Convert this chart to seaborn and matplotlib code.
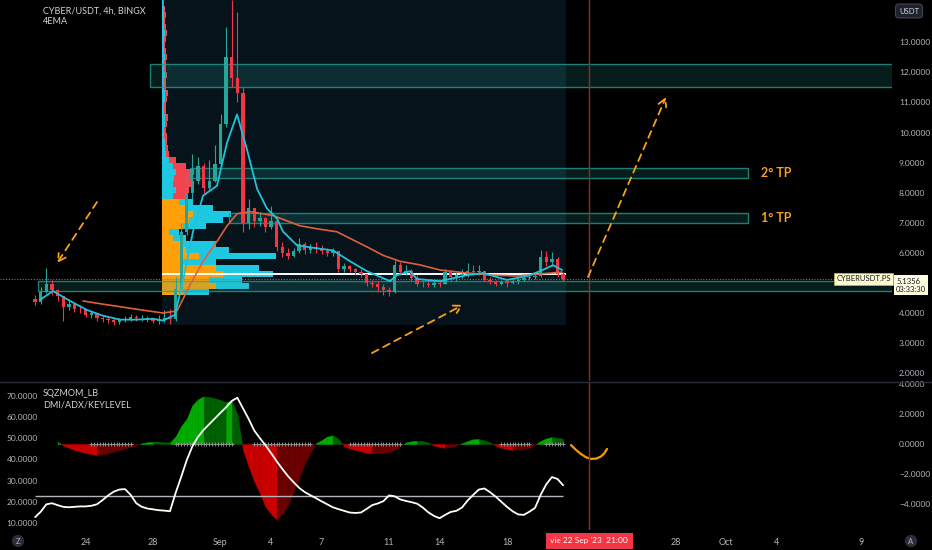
import numpy as np
import pandas as pd
import matplotlib
matplotlib.use("Agg")
import matplotlib.pyplot as plt
from matplotlib.patches import Rectangle
from matplotlib.lines import Line2D
from matplotlib.ticker import FuncFormatter
from matplotlib.transforms import blended_transform_factory
import seaborn as sns

# --- datos de velas (8h) ---
candle_start = "2023-08-21 00:00"
first_open = 4.45
closes = [4.35, 4.70, 4.95, 4.75, 4.55, 4.20, 4.30, 4.15, 4.12, 3.95,
          4.00, 3.85, 3.80, 3.78, 3.70, 3.76, 3.80, 3.88, 3.82, 3.85,
          3.80, 3.75, 3.78, 3.85, 3.80, 4.80, 6.70, 8.00, 8.40, 8.90,
          8.15, 8.40, 8.95, 10.30, 12.50, 11.80, 11.30, 7.00, 7.50, 7.05,
          7.15, 6.85, 7.05, 6.20, 6.00, 5.90, 6.05, 6.30, 6.10, 6.20,
          6.15, 6.05, 6.00, 6.05, 5.45, 5.55, 5.45, 5.35, 5.30, 5.00,
          4.95, 4.85, 4.75, 4.70, 5.60, 5.35, 5.40, 5.15, 4.98, 4.95,
          4.92, 5.00, 4.98, 5.35, 5.20, 5.25, 5.30, 5.40, 5.35, 5.40,
          5.10, 5.02, 4.98, 5.03, 5.00, 5.05, 5.10, 5.15, 5.20, 5.22,
          5.85, 5.70, 5.80, 5.30, 5.1356]
highs = [4.60, 4.85, 5.50, 5.10, 4.80, 4.55, 4.45, 4.35, 4.25, 4.15,
         4.08, 4.00, 3.90, 3.88, 3.82, 3.85, 3.90, 3.98, 3.95, 3.95,
         3.90, 3.85, 3.95, 4.10, 4.15, 5.20, 7.00, 8.60, 9.30, 9.20,
         9.00, 9.10, 9.60, 10.60, 13.50, 14.40, 14.00, 11.50, 7.80, 7.45,
         7.35, 7.20, 7.55, 7.20, 6.35, 6.15, 6.15, 6.50, 6.35, 6.30,
         6.35, 6.25, 6.15, 6.15, 6.05, 5.65, 5.60, 5.50, 5.45, 5.30,
         5.10, 5.05, 4.95, 4.85, 5.75, 5.70, 5.60, 5.45, 5.25, 5.10,
         5.05, 5.10, 5.10, 5.45, 5.40, 5.35, 5.45, 5.65, 5.60, 5.60,
         5.40, 5.20, 5.10, 5.10, 5.10, 5.12, 5.18, 5.25, 5.28, 5.30,
         6.08, 6.05, 6.02, 5.85, 5.35]
lows = [4.25, 4.30, 4.65, 4.60, 4.40, 3.75, 4.10, 4.05, 4.00, 3.88,
        3.85, 3.75, 3.70, 3.68, 3.60, 3.62, 3.70, 3.75, 3.74, 3.75,
        3.70, 3.68, 3.65, 3.70, 3.65, 3.75, 4.70, 6.60, 7.80, 8.30,
        8.00, 8.10, 8.35, 8.90, 10.20, 11.50, 11.00, 6.70, 6.80, 6.85,
        6.90, 6.70, 6.80, 6.05, 5.85, 5.80, 5.85, 6.00, 5.95, 6.00,
        6.00, 5.95, 5.90, 5.90, 5.35, 5.35, 5.35, 5.25, 5.20, 4.90,
        4.85, 4.70, 4.60, 4.58, 4.65, 5.25, 5.25, 5.05, 4.90, 4.85,
        4.85, 4.88, 4.88, 4.95, 5.05, 5.05, 5.15, 5.20, 5.25, 5.25,
        5.05, 4.95, 4.90, 4.92, 4.85, 4.95, 4.98, 5.05, 5.10, 5.12,
        5.20, 5.55, 5.55, 5.20, 5.08]

# --- EMAs (dias desde 1 sep) ---
ema_fast_day = [-10.71, -9.94, -8.93, -7.92, -6.97, -5.96, -4.96, -4.01, -3.41, -2.70,
                -2.23, -1.63, -1.04, -0.21, 0.39, 0.98, 1.57, 2.17, 2.76, 3.35,
                3.71, 4.54, 5.73, 6.68, 7.69, 8.69, 10.06, 10.47, 11.25, 11.66,
                13.03, 14.64, 15.58, 17.0, 18.19, 18.96, 19.73, 20.27]
ema_fast = [4.44, 4.73, 4.40, 4.10, 3.91, 3.78, 3.78, 3.81, 3.75, 3.94,
            5.06, 6.71, 7.90, 8.23, 9.67, 10.6, 9.44, 8.13, 7.47, 7.14,
            6.71, 6.25, 6.15, 6.08, 5.72, 5.39, 5.06, 5.26, 5.39, 5.13,
            5.06, 5.26, 5.33, 5.10, 5.23, 5.39, 5.59, 5.43]
ema_slow_day = [-8.16, -7.15, -5.96, -4.78, -3.41, -2.58, -1.81, -1.04, -0.21, 0.39,
                0.98, 1.75, 3.12, 4.72, 5.73, 6.91, 7.69, 8.69, 9.64, 10.65,
                11.84, 13.03, 14.63, 16.17, 17.60, 18.96, 20.27]
ema_slow = [4.40, 4.31, 4.21, 4.11, 4.00, 4.07, 4.93, 5.72, 6.38, 6.90,
            7.30, 7.37, 7.24, 6.90, 6.80, 6.70, 6.48, 6.20, 5.92, 5.72,
            5.60, 5.43, 5.33, 5.26, 5.23, 5.30, 5.36]

# --- perfil de volumen ---
profile_start = "2023-08-28 12:00"
range_end = "2023-09-21 12:00"
range_low = 3.60
profile_low = 4.6
profile_step = 0.2
value_area = (4.6, 7.8)
poc_price = 5.30
profile_a = [21, 54, 47, 61, 54, 21, 37, 24, 21, 11, 7, 21, 27, 31, 24, 17,
             11, 14, 11, 12, 14, 11, 7, 4, 3,
             3, 2, 2, 3, 3, 2, 2, 3, 3, 2, 2, 3, 2, 2, 3, 2, 2, 2, 3, 2, 2, 2, 2, 1]
profile_b = [26, 33, 33, 50, 43, 33, 77, 43, 33, 13, 10, 23, 34, 38, 27, 14,
             13, 13, 18, 19, 18, 13, 7, 3, 3,
             2, 3, 2, 2, 3, 2, 2, 2, 3, 2, 2, 2, 2, 2, 2, 2, 1, 2, 2, 2, 1, 2, 1, 1]

# --- zonas ---
zone_start = ["2023-08-27 20:00", "2023-08-30 04:00", "2023-09-01 12:00", "2023-08-21 04:00"]
zone_end = ["2023-10-20", "2023-10-02 08:00", "2023-10-02 08:00", "2023-10-20"]
zone_low = [11.51, 8.48, 6.98, 4.74]
zone_high = [12.28, 8.81, 7.32, 5.07]
tp_labels = ["2° TP", "1° TP"]
tp_prices = [8.65, 7.15]
tp_time = "2023-10-03 02:00"

# --- flechas (dias, precio) ---
arrow_tail_day = [-7.33, 8.99, 21.81]
arrow_tail_price = [7.69, 2.67, 5.20]
arrow_head_day = [-9.70, 14.39, 26.44]
arrow_head_price = [5.66, 4.27, 11.18]

# --- indicador ---
mom = [np.nan, np.nan, np.nan, np.nan, 0.15,
       -0.1, -0.25, -0.4, -0.5, -0.6, -0.68, -0.73, -0.7, -0.62, -0.5, -0.4, -0.3, -0.2, -0.1,
       0.05, 0.12, 0.15, 0.15, 0.12, 0.1,
       0.5, 1.2, 1.7, 2.6, 3.0, 3.2, 3.15, 3.07, 2.95, 2.8, 2.9, 2.0,
       -0.4, -1.5, -2.5, -3.3, -4.2, -4.7, -5.07, -4.7, -4.1, -3.2, -2.3, -1.3, -0.6,
       0.05, 0.25, 0.5, 0.58, 0.35,
       -0.15, -0.3, -0.4, -0.5, -0.58, -0.62, -0.6, -0.58, -0.55, -0.4, -0.15,
       0.1, 0.18, 0.22, 0.2, 0.1,
       -0.1, -0.2, -0.25, -0.2, -0.1,
       0.05, 0.2, 0.32, 0.33, 0.25, 0.1,
       -0.1, -0.25, -0.35, -0.4, -0.4, -0.35, -0.25, -0.05,
       0.2, 0.38, 0.47, 0.42, 0.35]
adx = [12.9, 15.5, 19.0, 19.5, 18.6, 17.8, 17.6, 17.8, 18.0, 18.0,
       18.3, 19.0, 21.0, 23.2, 25.0, 26.0, 26.2, 23.5, 19.5, 17.8,
       17.0, 16.6, 16.2, 16.0, 15.7, 24.3, 32.0, 40.0, 46.5, 51.0,
       54.3, 57.0, 59.7, 62.4, 65.0, 68.0, 69.5, 64.5, 59.5, 54.0,
       50.4, 47.0, 43.3, 39.4, 35.8, 32.4, 29.5, 26.8, 24.8, 23.3,
       21.9, 20.4, 19.0, 17.6, 16.7, 15.9, 15.1, 14.9, 15.1, 16.8,
       18.6, 19.4, 20.5, 23.2, 22.8, 21.3, 20.6, 20.0, 19.3, 17.5,
       15.2, 13.5, 12.4, 14.0, 15.4, 15.9, 17.5, 20.8, 23.5, 26.0,
       26.5, 24.7, 22.6, 20.2, 17.8, 15.7, 14.2, 14.0, 15.5, 17.3,
       23.5, 28.5, 31.9, 31.0, 28.0]
key_level = 23
squeeze_on = [(10, 17), (25, 35), (39, 49), (56, 65), (83, 88), (91, 94)]
forecast_day = [20.80, 21.10, 21.39, 21.69, 21.99, 22.29, 22.58, 22.78, 22.94]
forecast_val = [-0.07, -0.4, -0.67, -0.89, -1.0, -0.98, -0.84, -0.62, -0.33]
mom_ticks = [-4, -2, 0, 2, 4]
adx_ticks = [10, 20, 30, 40, 50, 60, 70]

cursor_time = "2023-09-22 21:00"
cursor_label = "vie 22 Sep '23  21:00"
last_price = 5.1356
countdown = "03:33:30"
price_ticks = [2, 3, 4, 6, 7, 8, 9, 10, 11, 12, 13]  # 5.0000 queda tapado por la etiqueta
tick_dates = ["2023-08-24", "2023-08-28", "2023-09-01", "2023-09-04", "2023-09-07", "2023-09-11",
              "2023-09-14", "2023-09-18", "2023-09-28", "2023-10-01", "2023-10-04", "2023-10-09"]
tick_labels = ["24", "28", "Sep", "4", "7", "11", "14", "18", "28", "Oct", "4", "9"]

# --- estilo ---
sns.set_theme(style="dark", rc={
    "figure.facecolor": "#000000", "axes.facecolor": "#000000",
    "axes.edgecolor": "#000000", "axes.grid": False,
    "text.color": "#d1d4dc", "xtick.color": "#b2b5be", "ytick.color": "#b2b5be",
})
plt.rcParams["font.family"] = ["Lato", "DejaVu Sans"]

T0 = pd.Timestamp("2023-09-01")


def to_day(ts):
    return (pd.Timestamp(ts) - T0) / pd.Timedelta("1D")


times = pd.date_range(candle_start, periods=len(closes), freq="8h")
cx = np.asarray((times - T0) / pd.Timedelta("1D"), dtype=float)
c = np.array(closes)
o = np.r_[first_open, c[:-1]]

W, H = 932, 550


def rect(x0, y0, x1, y1):
    return [x0 / W, 1 - y1 / H, (x1 - x0) / W, (y1 - y0) / H]


fig = plt.figure(figsize=(9.32, 5.5), dpi=100)
ax = fig.add_axes(rect(0, 0, 892, 381))
axm = fig.add_axes(rect(0, 382, 892, 530), sharex=ax)
axa = axm.twinx()

# --- panel principal ---
p0 = to_day(profile_start)
p1 = to_day(range_end)
ax.add_patch(Rectangle((p0, range_low), p1 - p0, 20, fc="#07131b", ec="none", zorder=0.5))

for zs, ze, zl, zh in zip(zone_start, zone_end, zone_low, zone_high):
    ax.add_patch(Rectangle((to_day(zs), zl), to_day(ze) - to_day(zs), zh - zl,
                           fc=(0.15, 0.65, 0.6, 0.18), ec=(0.15, 0.65, 0.6, 0.75),
                           lw=1, zorder=2.2))

rows = profile_low + profile_step * np.arange(len(profile_a))
pa = np.array(profile_a, float)
pb = np.array(profile_b, float)
scale = (114 / 16.85) / (pa + pb).max()
in_va = (rows >= value_area[0] - 1e-9) & (rows < value_area[1] - 1e-9)
col_a = np.where(in_va, "#ffa00a", "#1ec8e0")
col_b = np.where(in_va, "#1ec8e0", "#f2444f")
ax.barh(rows, pa * scale, left=p0, height=profile_step, align="edge", color=col_a, lw=0, zorder=2)
ax.barh(rows, pb * scale, left=p0 + pa * scale, height=profile_step, align="edge", color=col_b, lw=0, zorder=2)
ax.hlines(poc_price, p0, p1, color="white", lw=1.4, zorder=2.6)
ax.axhline(last_price, color="#787b86", lw=0.8, ls=(0, (1, 1.5)), zorder=2.5)

up = c >= o
ccol = np.where(up, "#26a69a", "#f23645")
ax.vlines(cx, lows, highs, colors=ccol, lw=0.8, zorder=3)
ax.bar(cx, np.maximum(np.abs(c - o), 0.03), bottom=np.minimum(o, c), width=0.2,
       color=ccol, lw=0, zorder=3.1)

sns.lineplot(x=ema_slow_day, y=ema_slow, ax=ax, color="#e0603a", lw=1.2, zorder=4)
sns.lineplot(x=ema_fast_day, y=ema_fast, ax=ax, color="#1fc3d9", lw=1.3, zorder=4.1)

for tx, ty, hx, hy in zip(arrow_tail_day, arrow_tail_price, arrow_head_day, arrow_head_price):
    ax.annotate("", xy=(hx, hy), xytext=(tx, ty), zorder=6,
                arrowprops=dict(arrowstyle="->,head_length=0.45,head_width=0.25",
                                color="#f7a21b", lw=1.3, ls=(0, (4, 3)), shrinkA=0, shrinkB=0))

for lab, pr in zip(tp_labels, tp_prices):
    ax.text(to_day(tp_time), pr, lab, color="#f7a21b", fontsize=9, fontweight="bold",
            ha="left", va="center", zorder=6)

cursor_day = to_day(cursor_time)
ax.axvline(cursor_day, color="#8b2c33", lw=1, zorder=5)
axm.axvline(cursor_day, color="#8b2c33", lw=1, zorder=5)

ax.set_xlim(-13.086, 39.85)
ax.set_ylim(1.74, 14.406)
ax.yaxis.tick_right()
ax.set_yticks(price_ticks)
ax.yaxis.set_major_formatter(FuncFormatter(lambda v, _: f"{v:.4f}"))
ax.tick_params(axis="y", length=0, pad=5, labelsize=6, labelcolor="#b2b5be")
ax.tick_params(axis="x", length=0, labelbottom=False)
ax.set_xlabel("")
ax.set_ylabel("")

bl = blended_transform_factory(ax.transAxes, ax.transData)
ax.text(0.9985, last_price, "CYBERUSDT.PS", transform=bl, ha="right", va="center",
        fontsize=5.5, color="#131722", zorder=7,
        bbox=dict(boxstyle="square,pad=0.3", fc="#fff9d0", ec="#c9b458", lw=0.5))
ax.annotate(f"{last_price:.4f}\n{countdown}", xy=(1, last_price), xycoords=bl,
            xytext=(3, -4.5), textcoords="offset points", ha="left", va="center",
            fontsize=5.5, color="#131722", linespacing=1.15, annotation_clip=False,
            bbox=dict(boxstyle="square,pad=0.3", fc="#fffde0", ec="none"))

# --- panel indicador: area del momentum por tramos ---
m = np.array(mom, float)
prev = np.r_[np.nan, m[:-1]]
mcol = []
for v, p in zip(m, prev):
    if np.isnan(v):
        mcol.append("none")
    elif v >= 0:
        mcol.append("#00ab00" if (np.isnan(p) or v > p) else "#005f00")
    else:
        mcol.append("#c80000" if (np.isnan(p) or v < p) else "#6a0000")

for i in range(1, len(m)):
    if np.isnan(m[i]) or np.isnan(m[i - 1]):
        continue
    x0, x1, y0, y1 = cx[i - 1], cx[i], m[i - 1], m[i]
    if y0 * y1 < 0:
        xz = x0 + (x1 - x0) * y0 / (y0 - y1)
        axm.fill_between([x0, xz], 0, [y0, 0], color=mcol[i - 1], lw=0.3, zorder=2)
        axm.fill_between([xz, x1], 0, [0, y1], color=mcol[i], lw=0.3, zorder=2)
    else:
        axm.fill_between([x0, x1], 0, [y0, y1], color=mcol[i], lw=0.3, zorder=2)

sq_x = []
for s, e in squeeze_on:
    sq_x.extend(np.interp(np.arange(s, e + 0.01, 0.5), np.arange(len(cx)), cx))
axm.scatter(sq_x, np.zeros(len(sq_x)), marker="+", s=9, color="#8f8f8f", lw=0.7, zorder=3)
sns.lineplot(x=forecast_day, y=forecast_val, ax=axm, color="#ff9800", lw=1.6)

sns.lineplot(x=cx, y=adx, ax=axa, color="white", lw=1.3, zorder=4)
axa.hlines(key_level, cx[0], cx[-1], color="#b2b5be", lw=1, zorder=3)
axa.set_ylim(6.82, 76.97)
axa.set_yticks([])
axa.set_ylabel("")
bla = blended_transform_factory(axa.transAxes, axa.transData)
for v in adx_ticks:
    axa.text(0.0075, v, f"{v:.4f}", transform=bla, ha="left", va="center",
             fontsize=6, color="#b2b5be")

axm.yaxis.tick_right()
axm.set_ylim(-5.77, 4.16)
axm.set_yticks(mom_ticks)
axm.yaxis.set_major_formatter(FuncFormatter(lambda v, _: f"{v:.4f}".replace("-", "\u2212")))
axm.tick_params(axis="y", length=0, pad=5, labelsize=6, labelcolor="#b2b5be")
axm.set_xticks([to_day(d) for d in tick_dates])
axm.set_xticklabels(tick_labels)
axm.tick_params(axis="x", length=0, pad=6, labelsize=6.5, labelcolor="#b2b5be")
axm.set_xlim(-13.086, 39.85)
axm.set_xlabel("")
axm.set_ylabel("")

axm.annotate(cursor_label, xy=(cursor_day, 0), xycoords=("data", "axes fraction"),
             xytext=(0, -7.9), textcoords="offset points", ha="center", va="center",
             fontsize=6, color="white", annotation_clip=False,
             bbox=dict(boxstyle="square,pad=0.55", fc="#f23645", ec="none"))

for a in (ax, axm, axa):
    for s in a.spines.values():
        s.set_visible(False)

# --- textos de la figura ---
def fx(px):
    return px / W


def fy(py):
    return 1 - py / H


fig.add_artist(Line2D([0, 1], [fy(381.5), fy(381.5)], transform=fig.transFigure,
                      color="#2a2e39", lw=1))
fig.text(fx(43), fy(11), "CYBER/USDT, 4h, BINGX", fontsize=6.5, color="#d1d4dc", va="center")
fig.text(fx(43), fy(22), "4EMA", fontsize=6.5, color="#d1d4dc", va="center")
fig.text(fx(43), fy(393), "SQZMOM_LB", fontsize=6.5, color="#d1d4dc", va="center")
fig.text(fx(43), fy(405), "DMI/ADX/KEYLEVEL", fontsize=6.5, color="#d1d4dc", va="center")
fig.text(fx(909), fy(11), "USDT", ha="center", va="center", fontsize=5.5, color="#d1d4dc",
         bbox=dict(boxstyle="round,pad=0.45", fc="#1e222d", ec="#434651", lw=0.8))
for bx, letter in [(18, "Z"), (911, "A")]:
    fig.text(fx(bx), fy(541), letter, ha="center", va="center", fontsize=5.5, color="#b2b5be",
             bbox=dict(boxstyle="circle,pad=0.35", fc="#2a2e39", ec="none"))

fig.savefig("out.png", dpi=100, facecolor=fig.get_facecolor())
